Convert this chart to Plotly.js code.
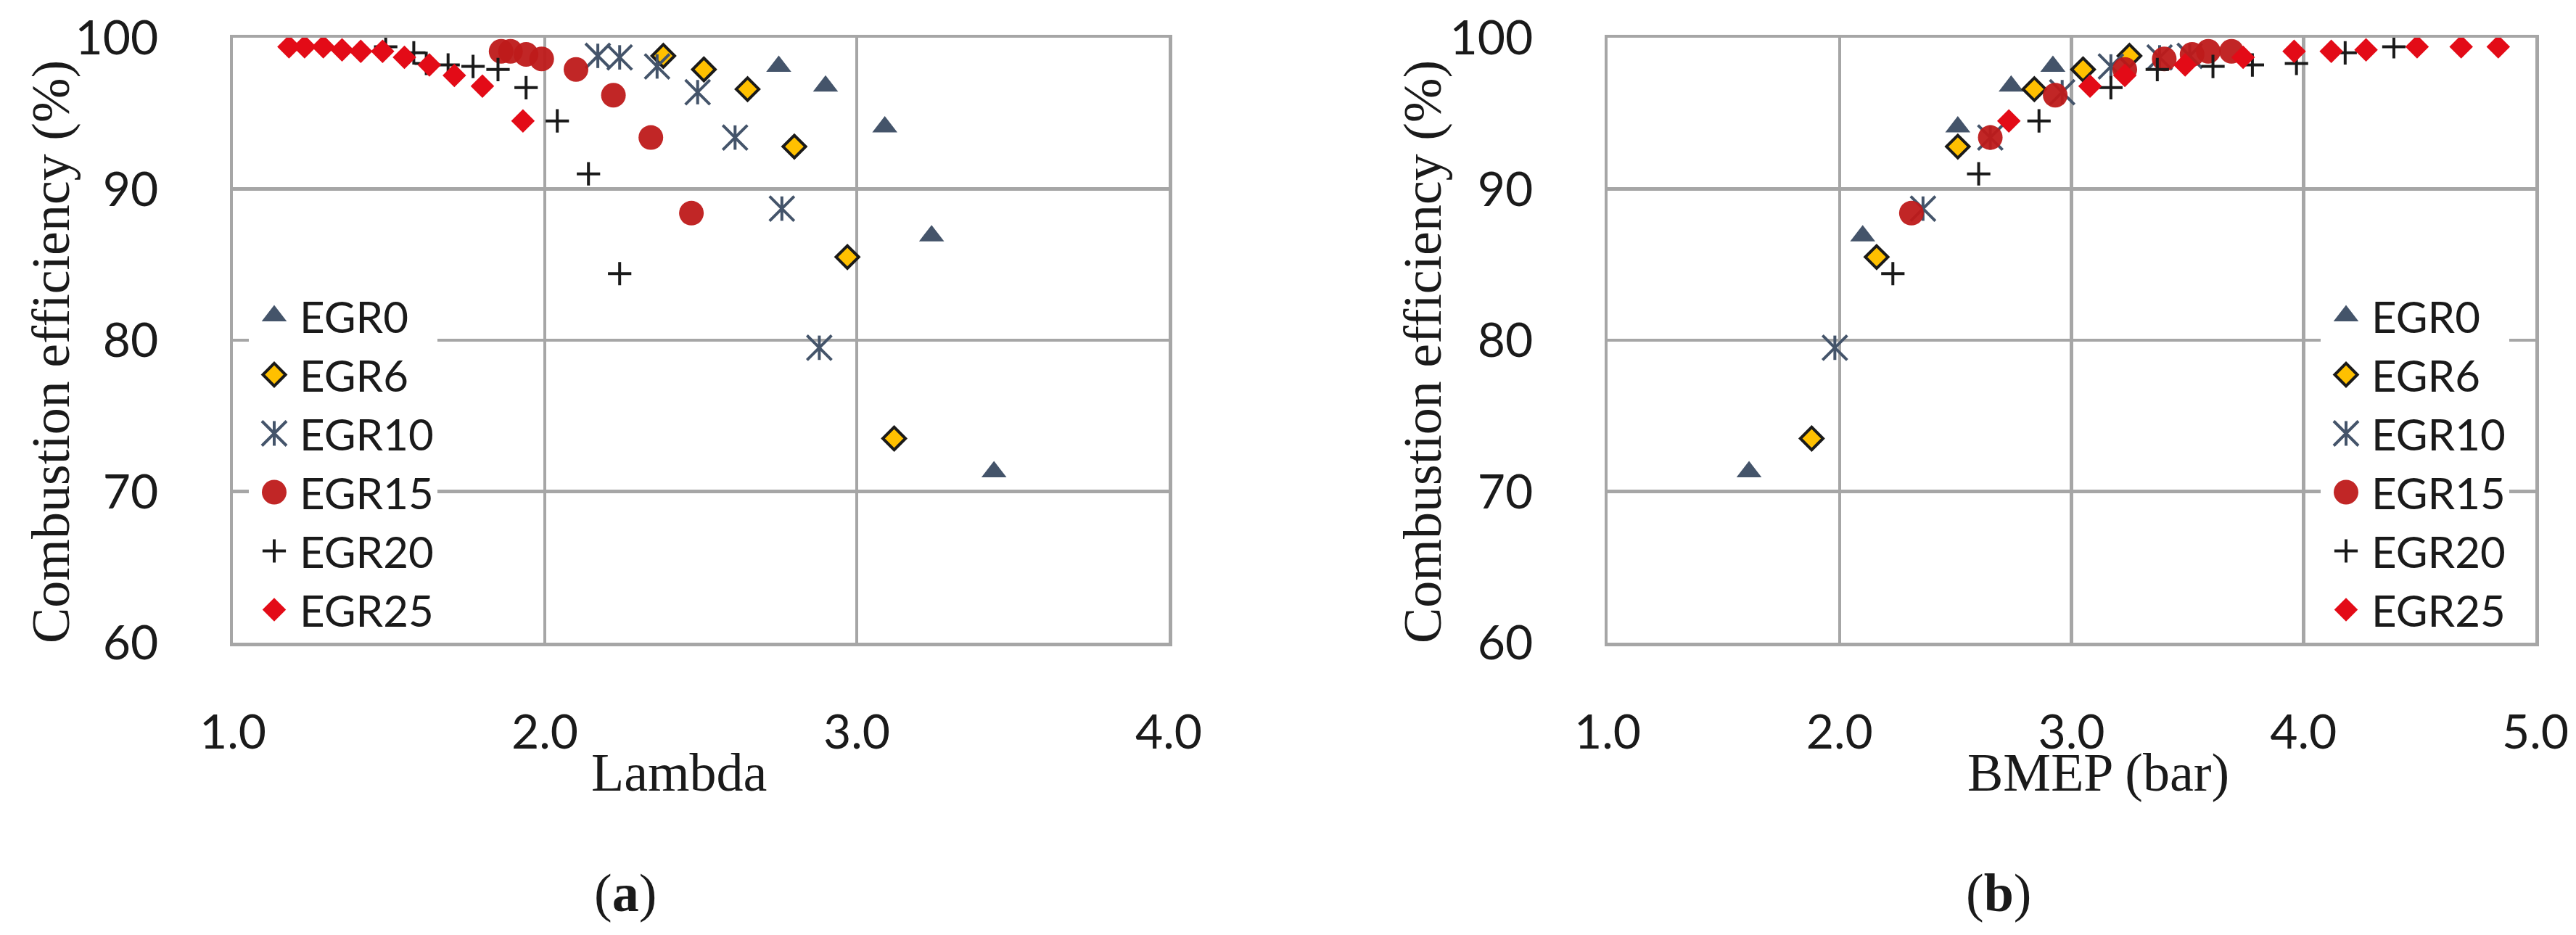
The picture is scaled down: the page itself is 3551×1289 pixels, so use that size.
<!DOCTYPE html>
<html>
<head>
<meta charset="utf-8">
<script src="https://cdn.plot.ly/plotly-3.0.1.min.js"></script>
<style>
  html, body { margin: 0; padding: 0; background: #fff; }
  #chart { width: 3551px; height: 1289px; }
</style>
</head>
<body>
<div id="chart"></div>
<script>
const seriesNames = ['EGR0', 'EGR6', 'EGR10', 'EGR15', 'EGR20', 'EGR25'];

// lambda values, panel (a)
const lambdaEgr0 = [2.75, 2.90, 3.09, 3.24, 3.44];
const lambdaEgr6 = [2.38, 2.51, 2.65, 2.80, 2.97, 3.12];
const lambdaEgr10 = [2.17, 2.24, 2.36, 2.49, 2.61, 2.76, 2.88];
const lambdaEgr15 = [1.86, 1.89, 1.94, 1.99, 2.10, 2.22, 2.34, 2.47];
const lambdaEgr20 = [1.49, 1.58, 1.62, 1.69, 1.77, 1.85, 1.94, 2.04, 2.14, 2.24];
const lambdaEgr25 = [1.18, 1.23, 1.29, 1.35, 1.41, 1.48, 1.55, 1.63, 1.71, 1.80, 1.93];

// BMEP values (bar), panel (b)
const bmepEgr0 = [2.92, 2.74, 2.51, 2.10, 1.61];
const bmepEgr6 = [3.25, 3.05, 2.84, 2.51, 2.16, 1.88];
const bmepEgr10 = [3.51, 3.38, 3.17, 2.96, 2.65, 2.36, 1.98];
const bmepEgr15 = [3.69, 3.59, 3.52, 3.40, 3.23, 2.93, 2.65, 2.31];
const bmepEgr20 = [4.39, 4.18, 3.97, 3.78, 3.61, 3.37, 3.17, 2.86, 2.60, 2.23];
const bmepEgr25 = [4.84, 4.68, 4.49, 4.27, 4.12, 3.96, 3.74, 3.49, 3.23, 3.08, 2.73];

// combustion efficiency (%), same points in both panels
const effEgr0 = [98.1, 96.8, 94.1, 86.9, 71.3];
const effEgr6 = [98.8, 97.9, 96.6, 92.8, 85.5, 73.5];
const effEgr10 = [98.8, 98.7, 98.1, 96.4, 93.4, 88.7, 79.5];
const effEgr15 = [99.1, 99.1, 98.9, 98.6, 97.9, 96.2, 93.4, 88.4];
const effEgr20 = [99.4, 99.0, 98.3, 98.2, 98.1, 97.9, 96.7, 94.5, 91.0, 84.4];
const effEgr25 = [99.4, 99.4, 99.4, 99.2, 99.1, 99.1, 98.7, 98.2, 97.5, 96.8, 94.5];

const yTicks = [60, 70, 80, 90, 100];
const lambdaTicks = [1, 2, 3, 4];
const bmepTicks = [1, 2, 3, 4, 5];

const lambdaList = [lambdaEgr0, lambdaEgr6, lambdaEgr10, lambdaEgr15, lambdaEgr20, lambdaEgr25];
const bmepList = [bmepEgr0, bmepEgr6, bmepEgr10, bmepEgr15, bmepEgr20, bmepEgr25];
const effList = [effEgr0, effEgr6, effEgr10, effEgr15, effEgr20, effEgr25];

const W = 3551, H = 1289;
const gray = '#A6A6A6';
const ink = '#1a1a1a';
const slate = '#44546A';

const markers = [
  {symbol: 'triangle-up', size: 30, color: slate},
  {symbol: 'diamond', size: 24, color: '#FFC000', line: {color: ink, width: 4}},
  {symbol: 'x-thin-open', size: 34, color: slate, line: {color: slate, width: 4}},
  {symbol: 'circle', size: 34, color: '#BE1A1A', opacity: 0.95},
  {symbol: 'cross-thin-open', size: 23, color: ink, line: {color: ink, width: 4}},
  {symbol: 'diamond', size: 25, color: '#E30B17'}
];

// the EGR10 star also has a vertical stroke
const egr10Stem = {symbol: 'line-ns-open', size: 24, color: slate, line: {color: slate, width: 4}};

const makeTrace = (name, x, y, marker, panel, showlegend) => ({
  name: name,
  x: x,
  y: y,
  type: 'scatter',
  mode: 'markers',
  cliponaxis: false,
  marker: marker,
  xaxis: panel == 0 ? 'x' : 'x2',
  yaxis: panel == 0 ? 'y' : 'y2',
  legend: panel == 0 ? 'legend' : 'legend2',
  legendgroup: name + '_' + panel,
  showlegend: showlegend
});

let data = [];
[lambdaList, bmepList].forEach((xList, panel) => {
  seriesNames.forEach((name, i) => {
    data.push(makeTrace(name, xList[i], effList[i], markers[i], panel, true));
    if(name == 'EGR10')
      data.push(makeTrace(name, xList[i], effList[i], egr10Stem, panel, false));
  });
});

const tickFont = {family: 'Lato, "Open Sans", sans-serif', size: 66, color: ink};
const titleFont = {family: '"Liberation Serif", "Times New Roman", serif', size: 74, color: ink};

const xAxis = (domain, range, ticks) => ({
  domain: domain,
  range: range,
  tickvals: ticks,
  tickformat: '.1f',
  ticks: '',
  ticklabelstandoff: 62,
  tickfont: tickFont,
  showgrid: true,
  gridcolor: gray,
  gridwidth: 4.5,
  zeroline: false,
  showline: true,
  mirror: true,
  linecolor: gray,
  linewidth: 4.5,
  fixedrange: true
});

const yAxis = (domain, anchor) => ({
  domain: domain,
  anchor: anchor,
  range: [60, 100],
  tickvals: yTicks,
  ticks: '',
  ticklabelstandoff: 85,
  tickfont: tickFont,
  showgrid: true,
  gridcolor: gray,
  gridwidth: 4.5,
  zeroline: false,
  showline: true,
  mirror: true,
  linecolor: gray,
  linewidth: 4.5,
  fixedrange: true
});

const yDomain = [1 - 886 / H, 1 - 52 / H];

const legendBox = (left) => ({
  x: left / W,
  y: 1 - 390 / H,
  xanchor: 'left',
  yanchor: 'top',
  bgcolor: '#fff',
  borderwidth: 0,
  itemwidth: 60,
  tracegroupgap: 0,
  font: {family: 'Lato, "Open Sans", sans-serif', size: 60, color: ink}
});

const note = (text, x, y, angle) => ({
  text: text,
  xref: 'paper',
  yref: 'paper',
  x: x / W,
  y: 1 - y / H,
  xanchor: 'center',
  yanchor: 'middle',
  textangle: angle || 0,
  showarrow: false,
  font: titleFont
});

const layout = {
  width: W,
  height: H,
  margin: {l: 0, r: 0, t: 0, b: 0},
  paper_bgcolor: '#fff',
  plot_bgcolor: '#fff',
  xaxis: xAxis([321 / W, 1611 / W], [1, 4], lambdaTicks),
  yaxis: yAxis(yDomain, 'x'),
  xaxis2: xAxis([2216 / W, 3495 / W], [1, 5], bmepTicks),
  yaxis2: yAxis(yDomain, 'x2'),
  legend: legendBox(343),
  legend2: legendBox(3199),
  annotations: [
    note('Combustion efficiency (%)', 70, 485, -90),
    note('Lambda', 936, 1065),
    note('(<b>a</b>)', 862, 1231),
    note('Combustion efficiency (%)', 1961, 485, -90),
    note('BMEP (bar)', 2892, 1065),
    note('(<b>b</b>)', 2755, 1231)
  ]
};

// plotly caps legend symbols at a small size, so blow them up to the plotted size
const enlargeLegendSymbols = (gd) => {
  const plotted = {};
  gd.querySelectorAll('.scatterlayer .trace').forEach(g => {
    const trace = g.__data__[0].trace;
    const pt = g.querySelector('path.point');
    if(pt) plotted[trace.index] = pt.getBBox();
  });

  gd.querySelectorAll('.infolayer g.traces').forEach(g => {
    const trace = g.__data__[0].trace;
    const sym = g.querySelector('path.scatterpts');
    const box = plotted[trace.index];
    if(!sym || !box) return;
    const k = box.width / sym.getBBox().width;
    sym.setAttribute('transform', (sym.getAttribute('transform') || '') + ' scale(' + k + ')');
    sym.style.vectorEffect = 'non-scaling-stroke';
    if(trace.marker.line)
      sym.style.strokeWidth = trace.marker.line.width + 'px';

    if(trace.name == 'EGR10') {
      const stem = sym.cloneNode(false);
      const half = box.height / 2;
      stem.setAttribute('d', 'M0,' + half + 'V-' + half);
      stem.setAttribute('transform', sym.getAttribute('transform').replace(/ scale\([^)]*\)/, ''));
      sym.parentNode.appendChild(stem);
    }
  });
};

Plotly.newPlot('chart', data, layout, {displayModeBar: false, staticPlot: true})
  .then(enlargeLegendSymbols);
</script>
</body>
</html>
